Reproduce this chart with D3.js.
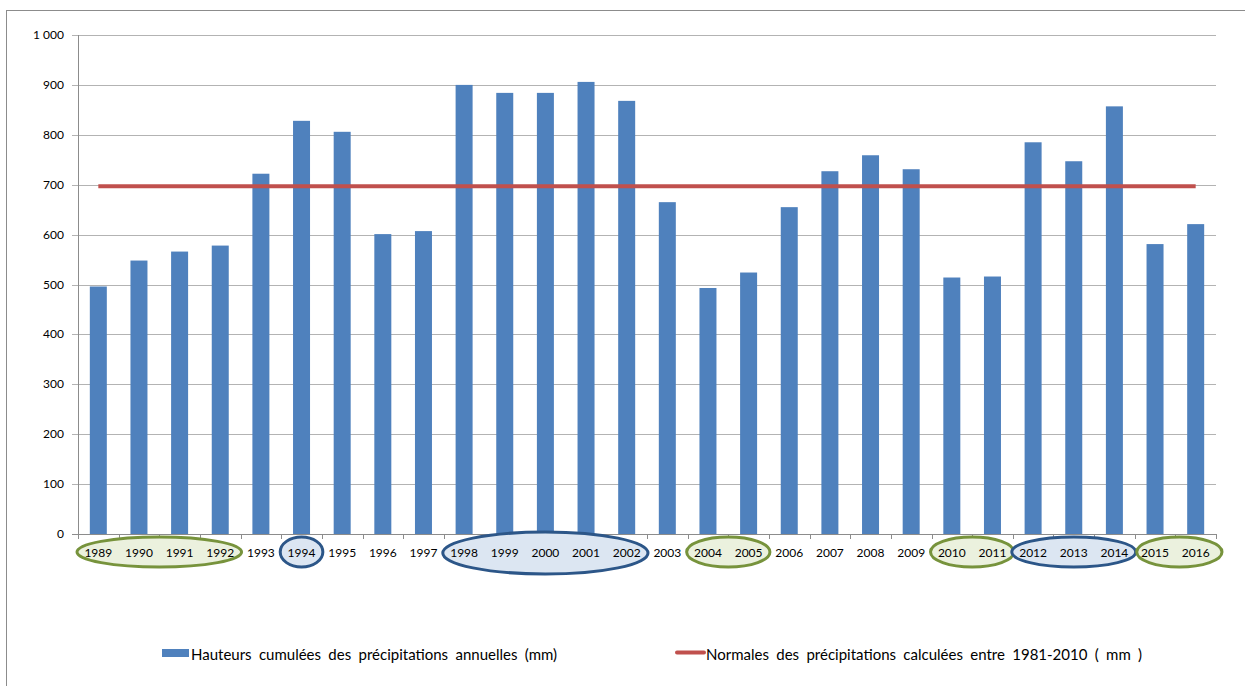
<!DOCTYPE html>
<html>
<head>
<meta charset="utf-8">
<script src="https://cdnjs.cloudflare.com/ajax/libs/d3/7.8.5/d3.min.js"></script>
<style>
  body { margin: 0; background: #fff; }
  text { font-family: Lato, "Open Sans", sans-serif; fill: #000; }
</style>
</head>
<body>
<div id="chart"></div>
<script>
// data
var years = ["1989","1990","1991","1992","1993","1994","1995","1996","1997","1998",
             "1999","2000","2001","2002","2003","2004","2005","2006","2007","2008",
             "2009","2010","2011","2012","2013","2014","2015","2016"];
var precip = [496, 548, 566, 578, 722, 828, 806, 601, 607, 900,
              884, 884, 906, 868, 665, 493, 524, 655, 727, 759,
              731, 514, 516, 785, 747, 857, 581, 621];
var normale = 697;
var yTicks = [0, 100, 200, 300, 400, 500, 600, 700, 800, 900, 1000];
// highlighted groups of years under the axis (green = dry, blue = wet)
var groups = [
  {from: "1989", to: "1992", kind: "dry"},
  {from: "1994", to: "1994", kind: "wet"},
  {from: "1998", to: "2002", kind: "wet"},
  {from: "2004", to: "2005", kind: "dry"},
  {from: "2010", to: "2011", kind: "dry"},
  {from: "2012", to: "2014", kind: "wet"},
  {from: "2015", to: "2016", kind: "dry"}
];
var legendLabels = ["Hauteurs cumulées des précipitations annuelles (mm)",
                    "Normales des précipitations calculées entre 1981-2010 ( mm )"];

var width = 1245, height = 686;
var plotLeft = 78, plotRight = 1216, plotTop = 35, plotBottom = 534;

var svg = d3.select("#chart").append("svg")
    .attr("width", width)
    .attr("height", height);

// chart frame (only top and left edges are visible)
svg.append("rect")
    .attr("x", 6.5).attr("y", 10.5)
    .attr("width", 1260).attr("height", 700)
    .attr("fill", "none")
    .attr("stroke", "#8c8c8c");

var x = d3.scaleBand().domain(years).range([plotLeft, plotRight]);
var y = d3.scaleLinear().domain([0, 1000]).range([plotBottom, plotTop]);

var fmt = function(d) { return d >= 1000 ? d3.format(",")(d).replace(",", " ") : d; };

// gridlines + y ticks
svg.append("g")
    .selectAll("line")
    .data(yTicks)
    .enter().append("line")
    .attr("x1", plotLeft - 6).attr("x2", plotRight)
    .attr("y1", function(d) { return Math.round(y(d)) + 0.5; })
    .attr("y2", function(d) { return Math.round(y(d)) + 0.5; })
    .attr("stroke", function(d) { return d === 0 ? "#8c8c8c" : "#b3b3b3"; });

svg.append("g")
    .selectAll("text")
    .data(yTicks)
    .enter().append("text")
    .attr("x", plotLeft - 14)
    .attr("y", function(d) { return y(d) + 4; })
    .attr("text-anchor", "end")
    .style("font-size", "12px")
    .text(fmt);

// y axis line
svg.append("line")
    .attr("x1", plotLeft + 0.5).attr("x2", plotLeft + 0.5)
    .attr("y1", plotTop).attr("y2", plotBottom)
    .attr("stroke", "#8c8c8c");

// x tick marks between categories
svg.append("g")
    .selectAll("line")
    .data(years.concat(["end"]))
    .enter().append("line")
    .attr("x1", function(d, i) { return Math.round(plotLeft + i * x.step()) + 0.5; })
    .attr("x2", function(d, i) { return Math.round(plotLeft + i * x.step()) + 0.5; })
    .attr("y1", plotBottom).attr("y2", plotBottom + 5)
    .attr("stroke", "#8c8c8c");

// bars
var barW = 17;
svg.append("g")
    .selectAll("rect")
    .data(precip)
    .enter().append("rect")
    .attr("x", function(d, i) { return x(years[i]) + x.bandwidth() / 2 - barW / 2; })
    .attr("y", function(d) { return y(d); })
    .attr("width", barW)
    .attr("height", function(d) { return plotBottom - y(d); })
    .attr("fill", "#4f81bd");

// normal line
svg.append("line")
    .attr("x1", x(years[0]) + x.bandwidth() / 2)
    .attr("x2", x(years[years.length - 1]) + x.bandwidth() / 2)
    .attr("y1", y(normale)).attr("y2", y(normale))
    .attr("stroke", "#c0504d")
    .attr("stroke-width", 4);

// ellipses around year labels
svg.append("g")
    .selectAll("ellipse")
    .data(groups)
    .enter().append("ellipse")
    .attr("cx", function(d) {
        var c = (x(d.from) + x(d.to) + x.bandwidth()) / 2;
        return d.from === "2015" ? c + 4 : c;
    })
    .attr("cy", function(d) { return d.from === "1998" ? 553 : 552; })
    .attr("rx", function(d) {
        var w = (x(d.to) + x.bandwidth() - x(d.from)) / 2;
        return d.from === "2015" ? w + 2 : w + 1;
    })
    .attr("ry", function(d) { return d.from === "1998" ? 21 : 15; })
    .attr("fill", function(d) { return d.kind === "dry" ? "#ebf1de" : "#dce6f2"; })
    .attr("stroke", function(d) { return d.kind === "dry" ? "#77933c" : "#2c5688"; })
    .attr("stroke-width", 3);

// year labels
svg.append("g")
    .selectAll("text")
    .data(years)
    .enter().append("text")
    .attr("x", function(d) { return x(d) + x.bandwidth() / 2; })
    .attr("y", 557)
    .attr("text-anchor", "middle")
    .style("font-size", "12px")
    .text(function(d) { return d; });

// legend
svg.append("rect")
    .attr("x", 162).attr("y", 649)
    .attr("width", 27).attr("height", 8)
    .attr("fill", "#4f81bd");
svg.append("text")
    .attr("x", 191).attr("y", 660)
    .style("font-size", "15px")
    .style("word-spacing", "3.5px")
    .text(legendLabels[0]);

svg.append("line")
    .attr("x1", 677).attr("x2", 704)
    .attr("y1", 652.5).attr("y2", 652.5)
    .attr("stroke", "#c0504d")
    .attr("stroke-width", 4)
    .attr("stroke-linecap", "round");
svg.append("text")
    .attr("x", 706).attr("y", 660)
    .style("font-size", "15px")
    .style("word-spacing", "3.5px")
    .text(legendLabels[1]);
</script>
</body>
</html>
